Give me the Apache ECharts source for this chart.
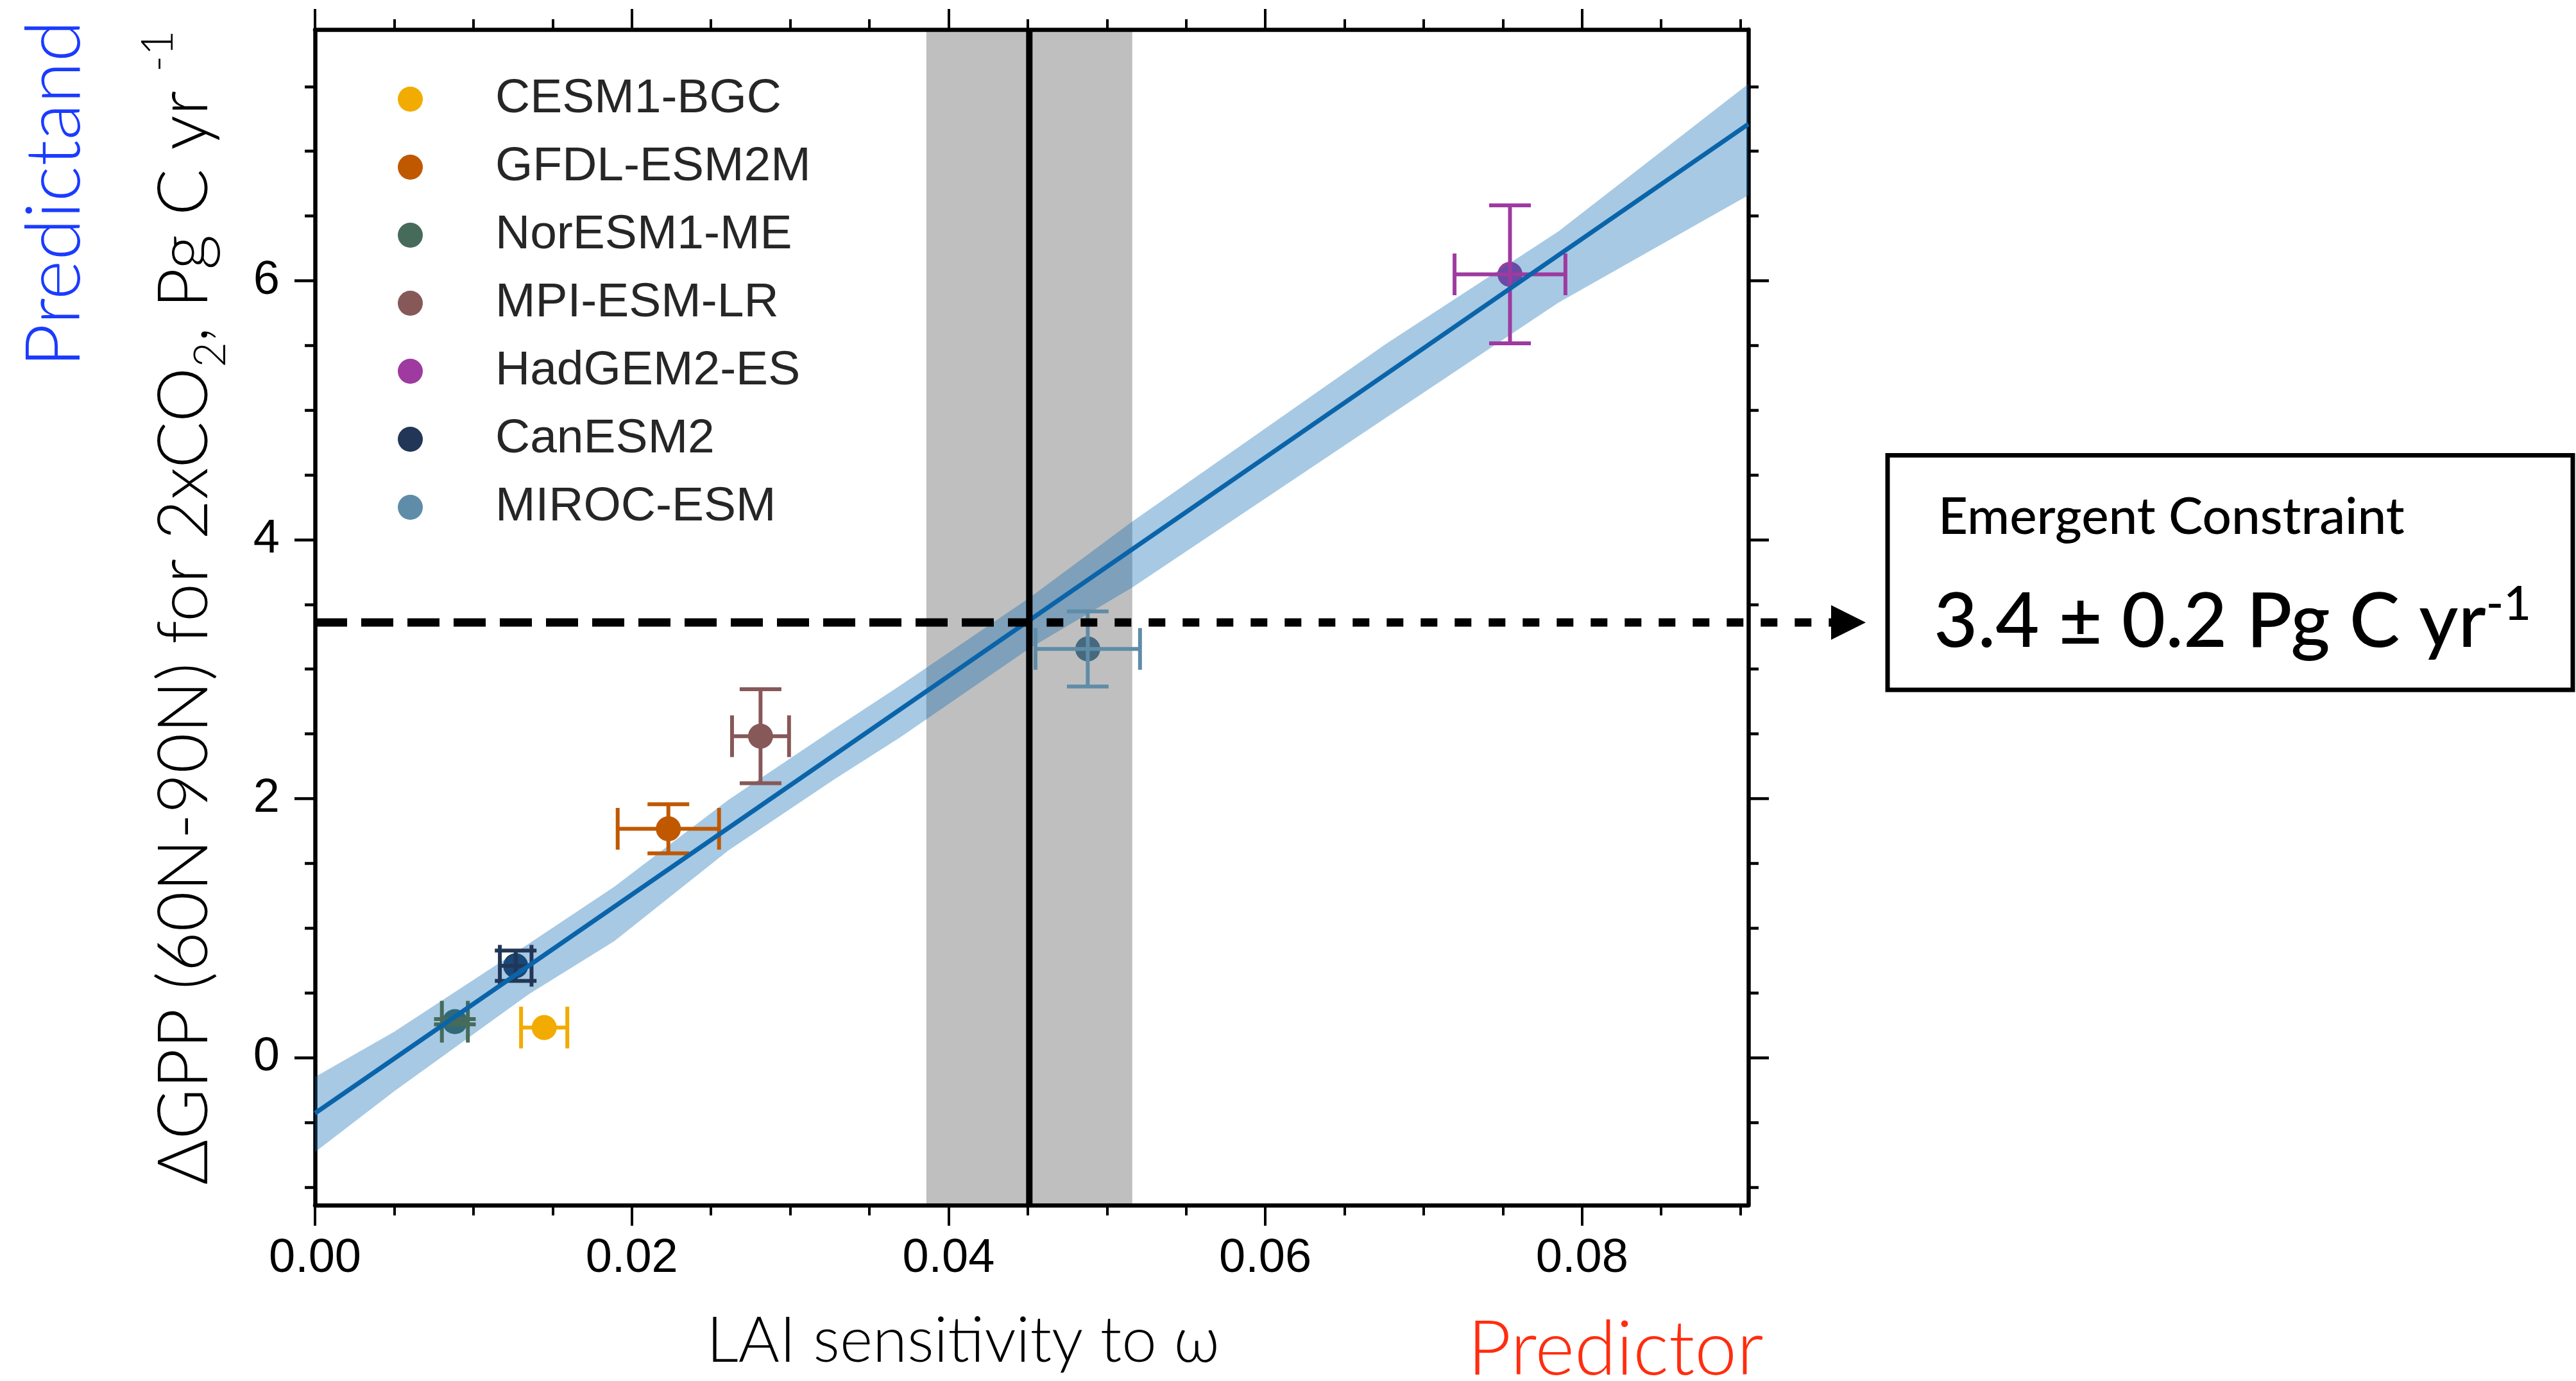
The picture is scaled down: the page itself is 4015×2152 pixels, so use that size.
<!DOCTYPE html>
<html><head><meta charset="utf-8">
<script src="https://cdn.jsdelivr.net/npm/echarts@6/dist/echarts.min.js"></script>
<style>html,body{margin:0;padding:0;background:#fff}#c{width:4015px;height:2152px}</style>
</head><body><div id="c"></div>
<script>
// ---------------- data ----------------
const models = ['CESM1-BGC','GFDL-ESM2M','NorESM1-ME','MPI-ESM-LR','HadGEM2-ES','CanESM2','MIROC-ESM'];
const laiSens = [0.01447, 0.02231, 0.00883, 0.02813, 0.07545, 0.01267, 0.04879];
const laiSensErr = [0.00146, 0.0032, 0.00082, 0.0018, 0.0035, 0.0010, 0.0033];
const dGpp = [0.232, 1.767, 0.277, 2.482, 6.049, 0.709, 3.156];
const dGppErr = [0, 0.19, 0.02, 0.363, 0.533, 0.117, 0.29];
const fitX = [0, 0.0905];
const fitY = [-0.43, 7.21];
const bandX     = [0,     0.005, 0.0135, 0.0189, 0.0261, 0.0328, 0.0369, 0.0451, 0.0516, 0.0676, 0.0785, 0.0905];
const bandUpper = [-0.15, 0.20,  0.88,   1.32,   1.99,   2.54,   2.87,   3.55,   4.14,   5.51,   6.38,   7.52];
const bandLower = [-0.73, -0.26, 0.49,   0.90,   1.60,   2.15,   2.47,   3.16,   3.63,   4.94,   5.83,   6.66];
const constraintX = 0.0451;
const constraintRange = [0.0386, 0.0516];
const constraintY = 3.36;
const xRange = [0, 0.0905];
const yRange = [-1.14, 7.94];
const xMajorTicks = [0, 0.02, 0.04, 0.06, 0.08];
const xMinorTicks = [0.005,0.01,0.015,0.025,0.03,0.035,0.045,0.05,0.055,0.065,0.07,0.075,0.085,0.09];
const yMajorTicks = [0, 2, 4, 6];
const yMinorTicks = [-1,-0.5,0.5,1,1.5,2.5,3,3.5,4.5,5,5.5,6.5,7,7.5];
const xTitle = 'LAI sensitivity to ω';
const yTitle = '{n|ΔGPP (60N-90N) for 2xCO}{sub|2}{n|, Pg C yr }{sup|-1}';

// ---------------- styles ----------------
const colors = ['#F2AB00','#C05800','#466B5A','#875858','#9E3AA0','#223657','#5F8CA8'];
const BOX = {x: 2942, y: 709.5, w: 1068, h: 365.5};
const TICKFONT = 'Liberation Sans';
const TITLEFONT = 'Lato';

function xAx(pos, ticks, len, line, labels) {
  return {
    type: 'value', position: pos, min: xRange[0], max: xRange[1],
    axisLine: {show: line, onZero: false, lineStyle: {color: '#000', width: 6.5}},
    axisTick: {show: true, inside: false, length: len, customValues: ticks, lineStyle: {color: '#000', width: 4}},
    axisLabel: labels ? {show: true, customValues: ticks, margin: 47, fontFamily: TICKFONT, fontSize: 74, color: '#000',
      formatter: v => v.toFixed(2)} : {show: false},
    splitLine: {show: false}
  };
}
function yAx(pos, ticks, len, line, labels) {
  return {
    type: 'value', position: pos, min: yRange[0], max: yRange[1],
    axisLine: {show: line, onZero: false, lineStyle: {color: '#000', width: 6.5}},
    axisTick: {show: true, inside: false, length: len, customValues: ticks, lineStyle: {color: '#000', width: 4.5}},
    axisLabel: labels ? {show: true, customValues: ticks, margin: 55, fontFamily: TICKFONT, fontSize: 74, color: '#000',
      formatter: v => v.toFixed(0)} : {show: false},
    splitLine: {show: false}
  };
}

const xAxes = [xAx('bottom', xMajorTicks, 32, true, true), xAx('bottom', xMinorTicks, 16, false, false),
               xAx('top', xMajorTicks, 32, true, false), xAx('top', xMinorTicks, 16, false, false)];
xAxes[0].name = xTitle;
xAxes[0].nameLocation = 'middle';
xAxes[0].nameGap = 163;
xAxes[0].nameTextStyle = {fontFamily: TITLEFONT, fontWeight: 300, fontSize: 98, color: '#000', padding: [0, 214, 0, 0]};

const yAxes = [yAx('left', yMajorTicks, 32, true, true), yAx('left', yMinorTicks, 16, false, false),
               yAx('right', yMajorTicks, 32, true, false), yAx('right', yMinorTicks, 16, false, false)];

const series = [];
// model markers
models.forEach((m, i) => {
  series.push({type: 'scatter', name: m, xAxisIndex: 0, yAxisIndex: 0, z: 2,
    symbol: 'circle', symbolSize: 39, itemStyle: {color: colors[i], opacity: 1},
    data: [[laiSens[i], dGpp[i]]]});
});
// constraint range (grey band)
series.push({type: 'custom', z: 3, silent: true, data: [constraintRange],
  renderItem: (params, api) => {
    const cs = params.coordSys;
    const x0 = api.coord([api.value(0), yRange[0]])[0];
    const x1 = api.coord([api.value(1), yRange[0]])[0];
    return {type: 'rect', shape: {x: x0, y: cs.y, width: x1 - x0, height: cs.height},
      style: {fill: 'rgba(0,0,0,0.25)'}};
  }});
// regression confidence band
series.push({type: 'custom', z: 4, silent: true,
  data: bandX.map((x, i) => [x, bandUpper[i], bandLower[i]]),
  renderItem: (params, api) => {
    if (params.dataIndex !== 0) return null;
    const pts = [];
    for (let i = 0; i < bandX.length; i++) pts.push(api.coord([bandX[i], bandUpper[i]]));
    for (let i = bandX.length - 1; i >= 0; i--) pts.push(api.coord([bandX[i], bandLower[i]]));
    return {type: 'polygon', shape: {points: pts}, style: {fill: 'rgba(12,104,178,0.36)'}};
  }});
// error bars
series.push({type: 'custom', z: 5, silent: true,
  data: models.map((m, i) => [laiSens[i], dGpp[i], laiSensErr[i], dGppErr[i], i]),
  renderItem: (params, api) => {
    const x = api.value(0), y = api.value(1), xe = api.value(2), ye = api.value(3);
    const col = colors[api.value(4)];
    const st = {stroke: col, lineWidth: 6};
    const cap = 32.5;
    const c = api.coord([x, y]);
    const kids = [];
    if (xe > 0) {
      const l = api.coord([x - xe, y]), r = api.coord([x + xe, y]);
      kids.push({type: 'line', shape: {x1: l[0], y1: c[1], x2: r[0], y2: c[1]}, style: st});
      kids.push({type: 'line', shape: {x1: l[0], y1: c[1] - cap, x2: l[0], y2: c[1] + cap}, style: st});
      kids.push({type: 'line', shape: {x1: r[0], y1: c[1] - cap, x2: r[0], y2: c[1] + cap}, style: st});
    }
    if (ye > 0) {
      const t = api.coord([x, y + ye]), b = api.coord([x, y - ye]);
      kids.push({type: 'line', shape: {x1: c[0], y1: t[1], x2: c[0], y2: b[1]}, style: st});
      kids.push({type: 'line', shape: {x1: c[0] - cap, y1: t[1], x2: c[0] + cap, y2: t[1]}, style: st});
      kids.push({type: 'line', shape: {x1: c[0] - cap, y1: b[1], x2: c[0] + cap, y2: b[1]}, style: st});
    }
    return {type: 'group', children: kids};
  }});
// regression line
series.push({type: 'line', z: 6, silent: true, showSymbol: false, symbol: 'none',
  lineStyle: {color: '#0A64AA', width: 7},
  data: fitX.map((x, i) => [x, fitY[i]])});
// emergent constraint lines + arrow
series.push({type: 'custom', z: 7, silent: true, clip: false, data: [[constraintX, constraintY]],
  renderItem: (params, api) => {
    const cs = params.coordSys;
    const p = api.coord([api.value(0), api.value(1)]);
    const left = api.coord([xRange[0], api.value(1)]);
    const base = BOX.x - 88, tip = BOX.x - 34;
    return {type: 'group', children: [
      {type: 'line', shape: {x1: p[0], y1: cs.y, x2: p[0], y2: cs.y + cs.height}, style: {stroke: '#000', lineWidth: 10}},
      {type: 'line', shape: {x1: left[0], y1: p[1], x2: p[0], y2: p[1]}, style: {stroke: '#000', lineWidth: 13, lineDash: [50, 22]}},
      {type: 'line', shape: {x1: p[0], y1: p[1], x2: base, y2: p[1]}, style: {stroke: '#000', lineWidth: 13, lineDash: [26, 27], lineDashOffset: 26}},
      {type: 'polygon', shape: {points: [[base, p[1] - 27], [tip, p[1]], [base, p[1] + 27]]}, style: {fill: '#000'}}
    ]};
  }});

const chart = echarts.init(document.getElementById('c'), null, {renderer: 'canvas'});
chart.setOption({
  animation: false,
  backgroundColor: '#fff',
  grid: {left: 491, right: 1290, top: 46, bottom: 274, containLabel: false, outerBoundsMode: 'none'},
  xAxis: xAxes,
  yAxis: yAxes,
  legend: {
    data: models, orient: 'vertical', left: 615, top: 112, itemWidth: 39, itemHeight: 39, itemGap: 31,
    icon: 'circle', selectedMode: false,
    textStyle: {fontFamily: TICKFONT, fontSize: 75, color: '#262626', lineHeight: 39, padding: [0, 0, 0, 108]}
  },
  graphic: [
    {type: 'text', x: 288, y: 947, rotation: Math.PI / 2, style: {text: yTitle, align: 'center', verticalAlign: 'middle',
      rich: {
        n: {fontFamily: TITLEFONT, fontWeight: 300, fontSize: 108, fill: '#000', lineHeight: 130},
        sub: {fontFamily: TITLEFONT, fontWeight: 300, fontSize: 68, fill: '#000', verticalAlign: 'bottom', lineHeight: 100},
        sup: {fontFamily: TITLEFONT, fontWeight: 300, fontSize: 68, fill: '#000', verticalAlign: 'top', lineHeight: 150}
      }}},
    {type: 'rect', shape: {x: BOX.x, y: BOX.y, width: BOX.w, height: BOX.h}, style: {fill: '#fff', stroke: '#000', lineWidth: 7}},
    {type: 'text', x: 3021, y: 806, style: {text: 'Emergent Constraint', fontFamily: TITLEFONT, fontWeight: 500, fontSize: 80,
      fill: '#000', align: 'left', verticalAlign: 'middle'}},
    {type: 'text', x: 3014, y: 970, style: {text: '{m|3.4 ± 0.2 Pg C yr}{s|-1}', align: 'left', verticalAlign: 'middle',
      rich: {m: {fontFamily: TITLEFONT, fontWeight: 500, fontSize: 118, fill: '#000', lineHeight: 130},
             s: {fontFamily: TITLEFONT, fontWeight: 500, fontSize: 74, fill: '#000', verticalAlign: 'top', lineHeight: 100}}}},
    {type: 'text', x: 86, y: 302, rotation: Math.PI / 2, style: {text: 'Predictand', fontFamily: TITLEFONT, fontWeight: 300,
      fontSize: 118, fill: '#1A3BFF', align: 'center', verticalAlign: 'middle'}},
    {type: 'text', x: 2518, y: 2104, style: {text: 'Predictor', fontFamily: TITLEFONT, fontWeight: 300,
      fontSize: 118, fill: '#FF2D0F', align: 'center', verticalAlign: 'middle'}}
  ],
  series: series
});
</script></body></html>
